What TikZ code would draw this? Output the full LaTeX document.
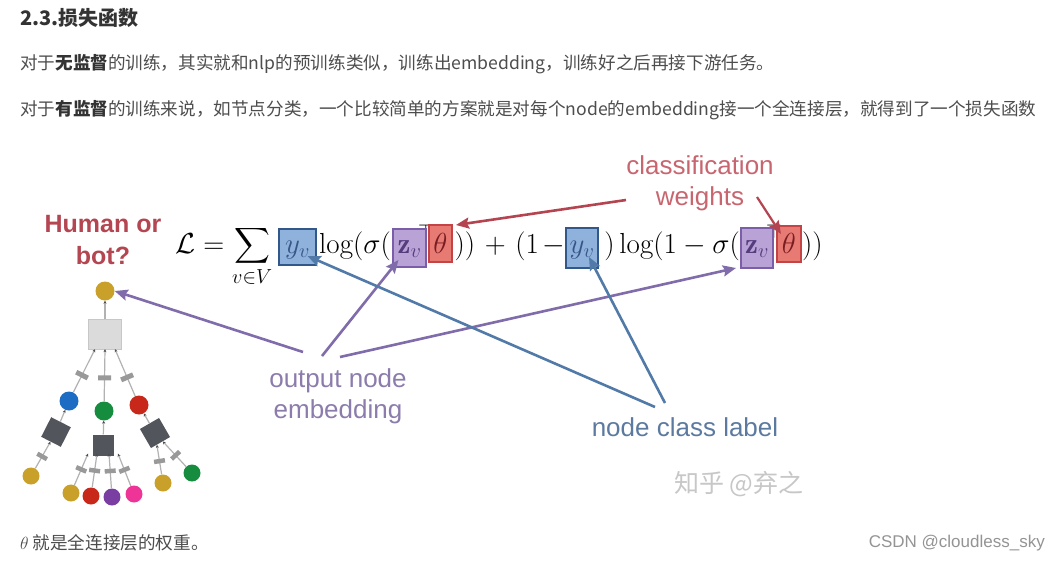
\RequirePackage{fix-cm}
\documentclass[tikz,border=0pt]{standalone}
\usepackage{amsmath}
\usepackage{fontspec}
\newfontfamily\cjk{Noto Sans CJK SC}
\newfontfamily\lab{Liberation Sans}
\usetikzlibrary{arrows.meta}
\definecolor{txt}{HTML}{4D4D4D}
\definecolor{ttl}{HTML}{333333}
\definecolor{bfill}{RGB}{143,178,220}
\definecolor{bdraw}{RGB}{50,88,138}
\definecolor{btxt}{RGB}{55,85,135}
\definecolor{pfill}{RGB}{184,162,214}
\definecolor{pdraw}{RGB}{122,94,168}
\definecolor{ptxt}{RGB}{85,60,125}
\definecolor{rfill}{RGB}{232,122,116}
\definecolor{rdraw}{RGB}{196,68,70}
\definecolor{rtxt}{RGB}{120,30,35}
\definecolor{parr}{RGB}{128,108,170}
\definecolor{barr}{RGB}{82,122,168}
\definecolor{rarr}{RGB}{180,68,80}
\definecolor{plab}{RGB}{140,124,172}
\definecolor{blab}{RGB}{92,122,160}
\definecolor{rlab}{RGB}{200,102,112}
\definecolor{hlab}{RGB}{180,70,82}
\definecolor{ngold}{RGB}{201,160,42}
\definecolor{nblue}{RGB}{28,108,196}
\definecolor{ngreen}{RGB}{22,140,62}
\definecolor{nred}{RGB}{200,40,26}
\definecolor{npurple}{RGB}{122,62,162}
\definecolor{npink}{RGB}{238,52,150}
\definecolor{dsqc}{RGB}{82,86,92}
\definecolor{edgec}{RGB}{178,178,178}
\tikzset{
  fml/.style={inner sep=0pt, anchor=base west, font=\fontsize{29}{34}\selectfont},
  fmr/.style={inner sep=0pt, anchor=base east, font=\fontsize{29}{34}\selectfont},
  mbox/.style={inner sep=0pt, anchor=base, line width=2pt, font=\fontsize{29}{34}\selectfont},
  bluebox/.style={mbox, draw=bdraw, fill=bfill, text=btxt},
  purplebox/.style={mbox, draw=pdraw, fill=pfill, text=ptxt},
  redbox/.style={mbox, draw=rdraw, fill=rfill, text=rtxt},
  arr/.style={line width=2.6pt, -{Stealth[length=13pt,width=11pt,inset=2pt]}},
  para/.style={inner sep=0pt, anchor=west, text=txt, font=\cjk\fontsize{17.6}{20}\selectfont},
  biglab/.style={inner sep=0pt, align=center, font=\lab\fontsize{26}{31}\selectfont},
  dot/.style={circle, inner sep=0pt, minimum size=19pt, draw=none},
  leaf/.style={circle, inner sep=0pt, minimum size=17pt, draw=none},
  dsq/.style={rectangle, inner sep=0pt, minimum size=22pt, fill=dsqc},
  lsq/.style={rectangle, inner sep=0pt, minimum width=33pt, minimum height=30pt, fill=black!14, draw=black!22},
  tl/.style={draw=edgec, line width=1.2pt, -{Stealth[length=3pt,width=3pt,color=black!70]}},
  rm/.style={rectangle, inner sep=0pt, minimum width=4.5pt, minimum height=11pt, fill=black!40, sloped},
  rmb/.style={rm, minimum width=5pt, minimum height=13pt}
}
\begin{document}
\begin{tikzpicture}[x=1pt,y=-1pt]
\useasboundingbox (0,0) rectangle (1061,563);
\fill[white] (0,0) rectangle (1061,563);

% ---- text ----
\node[inner sep=0pt, anchor=west, text=ttl, font=\cjk\bfseries\fontsize{20}{24}\selectfont] (title) at (20,18) {2.3.损失函数};
\node[para] (line1) at (20,64) {对于{\color{ttl}\bfseries 无监督}的训练，其实就和nlp的预训练类似，训练出embedding，训练好之后再接下游任务。};
\node[para] (line2) at (20,110) {对于{\color{ttl}\bfseries 有监督}的训练来说，如节点分类，一个比较简单的方案就是对每个node的embedding接一个全连接层，就得到了一个损失函数};
\node[para] (foot) at (20,543) {$\theta$ 就是全连接层的权重。};
\node[inner sep=0pt, anchor=east, text=black!42, font=\lab\fontsize{17}{20}\selectfont] (csdn) at (1045,543) {CSDN @cloudless\_sky};

% ---- formula ----
\node[fml] (lhs) at (175,253) {$\mathcal{L} = \displaystyle\sum_{v\in V}$};
\node[inner sep=0pt, anchor=north, font=\fontsize{20}{20}\selectfont] (tp1) at (426,224) {$\top$};
\node[inner sep=0pt, anchor=north, font=\fontsize{20}{20}\selectfont] (tp2) at (774,224) {$\top$};
\node[bluebox, minimum width=37pt, text height=24pt, text depth=12pt] (yv1) at (297.5,253) {$y_v$};
\node[fml] (p1) at (319,253) {$\log(\sigma($};
\node[purplebox, minimum width=33pt, text height=24pt, text depth=14pt] (zv1) at (409.5,253) {$\mathbf{z}_v$};
\node[redbox, minimum width=23pt, text height=28pt, text depth=9pt] (th1) at (440.5,253) {$\theta$};
\node[fmr] (p2) at (565,253) {$))\mkern2mu+\mkern2mu(1\mkern2mu-$};
\node[bluebox, minimum width=32pt, text height=25pt, text depth=15pt] (yv2) at (582,253) {$y_v$};
\node[fmr] (p3) at (740,253) {$)\log(1-\sigma($};
\node[purplebox, minimum width=32pt, text height=25pt, text depth=15pt] (zv2) at (757,253) {$\mathbf{z}_v$};
\node[redbox, minimum width=24pt, text height=27pt, text depth=9pt] (th2) at (789,253) {$\theta$};
\node[fml] (p4) at (802,253) {$))$};

% ---- labels ----
\node[biglab, text=rlab] (cw) at (700,183) {classification\\weights};
\node[inner sep=0pt, align=center, text=hlab, font=\lab\bfseries\fontsize{25}{32}\selectfont] (hb) at (103,240) {Human or\\bot?};
\node[biglab, text=plab] (oe) at (338,396) {output node\\embedding};
\node[biglab, text=blab] (ncl) at (685,427) {node class label};
\node[inner sep=0pt, text=black!22, font=\cjk\fontsize{25}{28}\selectfont] (wm) at (739,484) {知乎 @弃之};

% ---- tree ----
\node[dot, fill=ngold] (root) at (105,291) {};
\node[lsq] (agg) at (105,334) {};
\node[dot, fill=nblue] (cb) at (69,401) {};
\node[dot, fill=ngreen] (cg) at (104,411) {};
\node[dot, fill=nred] (cr) at (139,405) {};
\node[dsq, rotate=63] (sqL) at (56,432) {};
\node[dsq, minimum size=21pt] (sqM) at (103,445) {};
\node[dsq, rotate=30] (sqR) at (155,433) {};
\node[leaf, fill=ngold] (l1) at (31,476) {};
\node[leaf, fill=ngold] (l2) at (71,493) {};
\node[leaf, fill=nred] (l3) at (91,496) {};
\node[leaf, fill=npurple] (l4) at (112,497) {};
\node[leaf, fill=npink] (l5) at (134,494) {};
\node[leaf, fill=ngold] (l6) at (163,483) {};
\node[leaf, fill=ngreen] (l7) at (192,473) {};

\draw[tl] (agg) -- (root);
\draw[tl] (cb) -- node[rmb, pos=0.4]{} ([xshift=-10pt]agg.south);
\draw[tl] (cg) -- node[rmb, pos=0.45]{} (agg.south);
\draw[tl] (cr) -- node[rmb, pos=0.4]{} ([xshift=10pt]agg.south);
\draw[tl] (sqL) -- (cb);
\draw[tl] (sqM) -- (cg);
\draw[tl] (sqR) -- (cr);
\draw[tl] (l1) -- node[rm, pos=0.45]{} (sqL);
\draw[tl] (l2) -- node[rm, pos=0.5]{} ([xshift=-15pt,yshift=2pt]sqM.south);
\draw[tl] (l3) -- node[rm, pos=0.5]{} ([xshift=-6pt,yshift=2pt]sqM.south);
\draw[tl] (l4) -- node[rm, pos=0.5]{} ([xshift=6pt,yshift=2pt]sqM.south);
\draw[tl] (l5) -- node[rm, pos=0.5]{} ([xshift=15pt,yshift=2pt]sqM.south);
\draw[tl] (l6) -- node[rm, pos=0.45]{} (sqR);
\draw[tl] (l7) -- node[rm, pos=0.45]{} (sqR);

% ---- arrows ----
\coordinate (oe1) at (303,352);
\coordinate (oe2) at (322,356);
\coordinate (oe3) at (340,357);
\coordinate (nc1) at (655,407);
\coordinate (nc2) at (665,403);
\coordinate (cw1) at (626,200);
\coordinate (cw2) at (757,197);
\draw[arr, color=parr] (oe1) -- (root.east);
\draw[arr, color=parr] (oe2) -- ([xshift=-11pt,yshift=8pt]zv1.south);
\draw[arr, color=parr] (oe3) -- ([xshift=-4pt,yshift=1pt]zv2.south west);
\draw[arr, color=barr] (nc1) -- ([xshift=10pt,yshift=10pt]yv1.south);
\draw[arr, color=barr] (nc2) -- ([xshift=7pt,yshift=12pt]yv2.south);
\draw[arr, color=rarr] (cw1) -- ([xshift=3pt,yshift=-1pt]th1.north east);
\draw[arr, color=rarr, line width=2.2pt] (cw2) -- ([xshift=-8pt,yshift=-9pt]th2.north);
\end{tikzpicture}
\end{document}
